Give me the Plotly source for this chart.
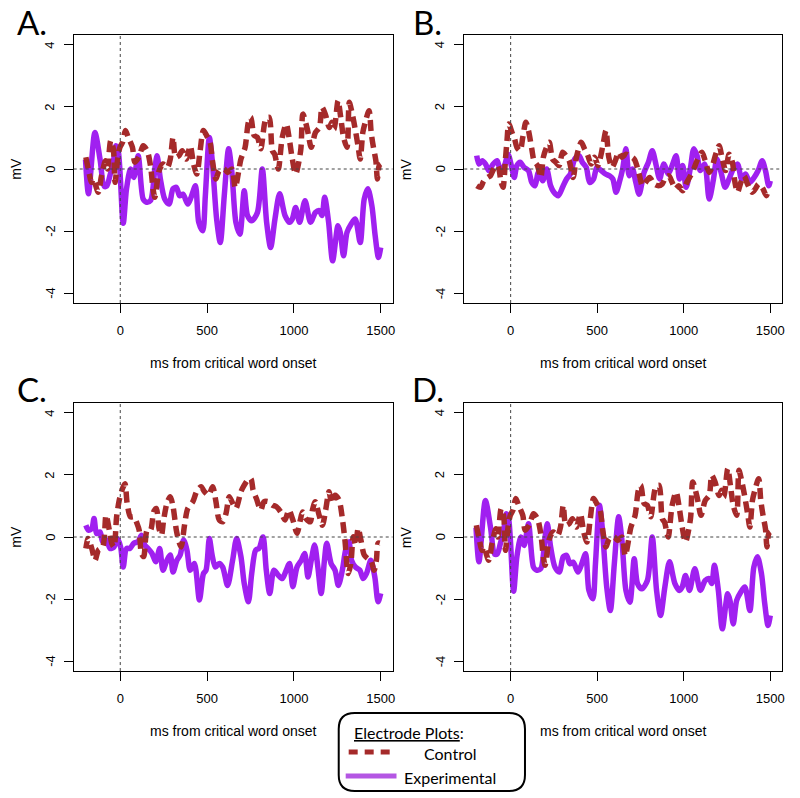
import plotly.graph_objects as go

RED = "#A52A2A"
PURPLE = "#A020F0"
LEGEND_PURPLE = "#B456E3"
TICK_FONT = dict(family="Liberation Sans, Arial, sans-serif", size=13, color="black")
LABEL_FONT = "Lato, Open Sans, sans-serif"

# Panel A (panel D shows the same electrode)
a_ctrl_ms = [-198, -184, -165, -155, -127, -108, -85, -74, -55, -40, -30, -15, -2, 13, 30, 46, 70, 84,
             107, 132, 155, 174, 189, 199, 224, 246, 271, 288, 304, 319, 338, 357, 380, 403, 422, 441,
             460, 479, 498, 517, 532, 551, 570, 599, 618, 643, 662, 695, 719, 738, 752, 771, 790, 809,
             838, 857, 876, 889, 910, 933, 956, 975, 991, 1010, 1039, 1052, 1077, 1100, 1124, 1147,
             1162, 1181, 1204, 1219, 1232, 1254, 1271, 1286, 1306, 1319, 1334, 1353, 1369, 1382, 1397,
             1411, 1433, 1445, 1458, 1472, 1481, 1491, 1500]
a_ctrl_mv = [0.38, 0.0, -0.43, -0.32, -0.75, -0.22, 0.27, 0.0, 0.91, 0.65, -0.43, 0.32, 0.7, 0.86, 1.24,
             1.02, 0.7, 0.22, 0.38, 0.75, 0.59, 0.11, -0.64, -0.91, -0.05, 0.16, 0.05, 0.32, 1.02, 0.38,
             0.43, 0.59, 0.32, 0.75, 0.16, -0.16, 0.59, 1.24, 1.07, 0.86, 0.22, -0.32, -0.05, 0.0, -0.11,
             0.0, -0.6, 0.32, 0.7, 1.51, 1.67, 1.08, 1.02, 0.65, 1.61, 1.67, 0.59, 0.48, 0.0, 1.02, 1.45,
             0.91, 0.32, -0.16, 0.59, 1.77, 1.29, 0.7, 1.18, 1.34, 1.99, 1.77, 1.34, 1.51, 1.29, 2.2,
             1.61, 1.02, 0.7, 2.15, 1.83, 1.29, 0.75, 0.32, 1.18, 1.51, 1.88, 1.18, 0.7, 0.27, -0.32,
             0.11, 0.16]
a_exp_ms = [-200, -183, -146, -116, -93, -78, -59, -40, -25, -12, 17, 36, 59, 78, 103, 132, 151, 174, 199,
            212, 231, 256, 281, 304, 323, 342, 361, 389, 408, 433, 452, 475, 490, 513, 529, 555, 576,
            599, 624, 643, 666, 689, 714, 733, 758, 790, 818, 843, 866, 891, 918, 949, 975, 991, 1010,
            1033, 1064, 1096, 1124, 1147, 1162, 1177, 1200, 1223, 1254, 1267, 1286, 1306, 1330, 1353,
            1382, 1405, 1426, 1449, 1468, 1487, 1500]
a_exp_mv = [0.3, -0.8, 1.18, 0.3, -0.55, -0.55, -0.2, 0.22, 0.75, 0.6, -1.75, -0.64, 0.0, -0.27, 0.43,
            -0.97, -1.07, -1.02, 0.0, 0.43, -0.32, -0.97, -1.13, -0.64, -0.59, -0.86, -0.81, -1.13,
            -0.91, -0.54, -1.72, -1.99, -0.86, 1.02, 0.32, -1.61, -2.37, -0.86, 0.65, -0.11, -1.72,
            -2.1, -0.7, -1.5, -1.67, -1.4, 0.0, -1.72, -2.53, -1.61, -0.8, -1.5, -1.72, -1.61, -1.24,
            -1.72, -1.02, -1.72, -1.4, -1.34, -1.5, -0.91, -1.72, -2.96, -1.83, -2.04, -2.8, -2.04,
            -1.77, -1.61, -2.37, -0.97, -0.64, -1.18, -2.15, -2.85, -2.53]

# Panel B
b_ctrl_ms = [-196, -174, -155, -132, -117, -93, -74, -55, -44, -30, -21, -11, 8, 23, 36, 55, 70, 88, 103,
             122, 135, 155, 174, 189, 204, 223, 242, 261, 280, 300, 319, 338, 361, 380, 408, 427, 446,
             465, 485, 504, 523, 536, 551, 567, 586, 605, 624, 643, 666, 685, 714, 742, 761, 780, 803,
             828, 853, 876, 895, 914, 933, 952, 971, 994, 1018, 1039, 1058, 1077, 1105, 1124, 1147,
             1166, 1185, 1204, 1223, 1242, 1262, 1281, 1296, 1311, 1330, 1349, 1368, 1395, 1414, 1433,
             1458, 1477, 1491]
b_ctrl_mv = [-0.54, -0.59, -0.38, -0.27, -0.22, 0.05, 0.11, -0.43, -0.59, 0.32, 0.91, 1.45, 1.18, 0.97,
             0.7, 0.59, 1.02, 1.51, 1.24, 0.65, 0.27, 0.11, -0.27, 0.38, 0.65, 0.86, 0.32, 0.22, 0.11,
             0.54, 0.43, 0.27, -0.27, 0.38, 0.86, 0.65, 0.43, 0.16, 0.38, 0.11, 0.48, 0.86, 1.24, 0.38,
             0.05, 0.27, 0.54, 0.38, 0.48, 0.43, 0.32, -0.16, -0.54, -0.43, -0.27, -0.48, -0.54, -0.48,
             -0.27, -0.22, -0.43, -0.64, -0.54, -0.7, -0.43, -0.22, 0.0, 0.27, 0.54, 0.27, -0.11, 0.11,
             0.48, 0.75, 0.32, -0.05, 0.48, 0.22, -0.43, -0.75, -0.43, -0.22, -0.48, -0.75, -0.64,
             -0.48, -0.64, -0.86, -0.64]
b_exp_ms = [-196, -183, -164, -145, -126, -101, -78, -59, -36, -15, 4, 21, 36, 55, 78, 103, 122, 141, 160,
            185, 208, 231, 250, 275, 300, 323, 345, 370, 395, 414, 437, 456, 479, 498, 523, 548, 571,
            590, 609, 628, 647, 666, 685, 704, 723, 742, 771, 796, 818, 841, 861, 885, 910, 933, 956,
            975, 994, 1014, 1039, 1058, 1077, 1096, 1121, 1147, 1172, 1191, 1216, 1239, 1262, 1286,
            1311, 1334, 1357, 1382, 1407, 1430, 1453, 1472, 1491, 1500]
b_exp_mv = [0.43, 0.16, 0.27, 0.16, -0.05, 0.16, 0.27, -0.05, 0.11, 0.48, 0.11, -0.27, 0.11, 0.22, 0.05,
            -0.05, -0.43, -0.54, -0.11, -0.38, 0.0, -0.54, -0.75, -0.86, -0.59, -0.32, -0.16, 0.32,
            0.43, 0.22, 0.05, -0.43, -0.32, 0.05, -0.05, -0.16, -0.22, -0.32, -0.75, -0.43, 0.0, 0.65,
            -0.22, 0.0, -0.43, -0.81, -0.11, 0.22, 0.59, 0.11, -0.32, 0.16, -0.16, 0.11, 0.43, -0.32,
            0.11, -0.59, 0.05, 0.65, 0.43, -0.05, 0.16, -0.97, -0.32, 0.32, -0.11, -0.59, -0.32, 0.0,
            0.16, -0.32, -0.16, -0.43, -0.27, -0.05, 0.27, -0.05, -0.54, -0.38]

# Panel C
c_ctrl_ms = [-198, -185, -164, -145, -126, -101, -82, -63, -49, -36, -21, -6, 13, 27, 40, 59, 78, 97, 109,
             122, 135, 155, 174, 193, 208, 223, 237, 250, 269, 288, 304, 323, 338, 351, 370, 389, 418,
             441, 465, 485, 509, 532, 551, 570, 590, 609, 628, 647, 666, 695, 714, 733, 752, 765, 784,
             809, 828, 853, 876, 899, 924, 949, 971, 994, 1018, 1037, 1050, 1069, 1094, 1107, 1123,
             1145, 1164, 1183, 1202, 1218, 1237, 1260, 1279, 1294, 1313, 1328, 1342, 1355, 1370, 1386,
             1405, 1424, 1443, 1462, 1475, 1485, 1494]
c_ctrl_mv = [-0.37, -0.05, -0.37, -0.75, -0.42, -0.32, 0.7, 0.22, -0.2, -0.32, 0.65, 1.18, 1.56, 1.72,
             1.07, 0.65, 0.65, 0.43, 0.22, -0.53, -0.63, 0.22, 0.22, 0.82, 0.92, 0.28, 0.06, 0.55, 1.09,
             1.3, 0.98, 0.22, -0.15, -0.32, 0.38, 0.92, 1.14, 1.48, 1.62, 1.46, 1.35, 1.62, 1.14, 0.55,
             0.49, 0.76, 1.3, 1.09, 0.92, 1.46, 1.67, 1.83, 1.88, 1.51, 1.24, 0.87, 1.14, 1.14, 1.03,
             0.98, 0.81, 0.55, 0.87, 0.55, 0.12, 0.55, 0.81, 0.6, 0.49, 0.87, 1.14, 0.71, 0.38, 0.87,
             1.46, 1.09, 1.35, 1.19, 0.6, -0.1, -1.18, -0.85, 0.01, -0.26, 0.28, -0.1, -0.58, -0.69,
             -0.75, -1.07, -0.75, -0.2, -0.2]
c_exp_ms = [-198, -183, -164, -151, -136, -116, -101, -78, -59, -36, -17, 2, 17, 36, 55, 78, 103, 122,
            141, 160, 183, 204, 227, 246, 269, 288, 304, 326, 345, 365, 384, 403, 427, 456, 479, 494,
            513, 529, 548, 570, 590, 618, 647, 670, 695, 714, 738, 757, 780, 799, 822, 841, 861, 885,
            910, 933, 956, 975, 994, 1018, 1043, 1062, 1081, 1100, 1119, 1138, 1157, 1176, 1189, 1214,
            1237, 1256, 1279, 1298, 1317, 1332, 1355, 1380, 1399, 1418, 1443, 1466, 1485, 1500]
c_exp_mv = [0.38, 0.22, 0.27, 0.6, 0.11, 0.16, -0.16, -0.1, -0.37, -0.32, -0.05, -0.32, -0.97, -0.37,
            -0.37, -0.2, -0.15, 0.06, -0.26, -0.37, -0.53, -0.8, -0.37, -1.07, -0.75, -0.58, -1.13,
            -0.75, -0.58, -0.1, -0.42, -1.07, -0.85, -2.03, -1.18, -1.07, -0.05, -0.58, -0.97, -0.85,
            -0.97, -1.56, -0.75, -0.05, -0.63, -1.5, -2.09, -1.18, -0.42, -0.37, 0.0, -1.07, -1.82,
            -1.07, -1.23, -1.34, -1.07, -0.85, -1.6, -0.97, -0.75, -0.53, -1.29, -0.75, -0.26, -0.97,
            -1.82, -0.75, -0.2, -0.85, -1.07, -1.56, -1.07, -0.42, -0.15, -0.75, -0.97, -1.07, -1.34,
            -1.18, -0.75, -1.29, -2.09, -1.82]

panels = [
    ("A.", a_ctrl_ms, a_ctrl_mv, a_exp_ms, a_exp_mv),
    ("B.", b_ctrl_ms, b_ctrl_mv, b_exp_ms, b_exp_mv),
    ("C.", c_ctrl_ms, c_ctrl_mv, c_exp_ms, c_exp_mv),
    ("D.", a_ctrl_ms, a_ctrl_mv, a_exp_ms, a_exp_mv),
]

x_ticks = [0, 500, 1000, 1500]
y_ticks = [-4, -2, 0, 2, 4]
x_range = [-268, 1568]
y_range = [-4.32, 4.32]

W, H = 800, 798
x_domains = [[0.0925, 0.4925], [0.5825, 0.98125]]
y_domains = [[0.6203, 0.9561], [0.1591, 0.4950]]

fig = go.Figure()
shapes, annotations = [], []
frame = dict(ticks="outside", ticklen=9, tickcolor="black", tickwidth=1,
             showline=True, mirror=True, linecolor="black", linewidth=1,
             showgrid=False, zeroline=False, showticklabels=False, fixedrange=True)
# separate label-only x axes so tick labels can sit further out, R style
labels_only = dict(ticks="", showline=False, showgrid=False, zeroline=False,
                   tickfont=TICK_FONT, anchor="free", fixedrange=True)
axis_text = dict(family=TICK_FONT["family"], size=14, color="black")

for i, (label, c_ms, c_mv, e_ms, e_mv) in enumerate(panels):
    n = "" if i == 0 else str(i + 1)
    xa, ya = "x" + n, "y" + n
    fig.add_trace(go.Scatter(
        x=e_ms, y=e_mv, xaxis=xa, yaxis=ya, mode="lines",
        line=dict(color=PURPLE, width=5.5, shape="spline", smoothing=0.8),
        showlegend=False, hoverinfo="skip",
    ))
    fig.add_trace(go.Scatter(
        x=c_ms, y=c_mv, xaxis=xa, yaxis=ya, mode="lines",
        line=dict(color=RED, width=5.5, shape="spline", smoothing=0.8, dash="11px,6px"),
        showlegend=False, hoverinfo="skip",
    ))
    # empty trace so the label-only x axis gets drawn
    fig.add_trace(go.Scatter(x=[], y=[], xaxis="x" + str(i + 5), yaxis=ya,
                             mode="lines", showlegend=False, hoverinfo="skip"))
    xd, yd = x_domains[i % 2], y_domains[i // 2]
    fig.update_layout({
        "xaxis" + n: dict(domain=xd, anchor=ya, range=x_range,
                          tickmode="array", tickvals=x_ticks, **frame),
        "yaxis" + n: dict(domain=yd, anchor=xa, range=y_range,
                          tickmode="array", tickvals=y_ticks, **frame),
        "xaxis" + str(i + 5): dict(overlaying=xa, range=x_range, tickmode="array",
                                   tickvals=x_ticks, position=yd[0] - 18 / H, **labels_only),
    })
    # rotated y tick labels, R style
    for v in y_ticks:
        annotations.append(dict(
            text=str(v), xref=xa + " domain", yref=ya, x=0, y=v, xshift=-24,
            showarrow=False, textangle=-90, xanchor="center", yanchor="middle",
            font=TICK_FONT,
        ))
    # dotted reference lines at onset and 0 mV
    dot = dict(color="#444444", width=1, dash="dot")
    shapes.append(dict(type="line", xref=xa, yref=ya + " domain", x0=0, x1=0, y0=0, y1=1, line=dot))
    shapes.append(dict(type="line", xref=xa + " domain", yref=ya, x0=0, x1=1, y0=0, y1=0, line=dot))
    annotations.append(dict(
        text="ms from critical word onset", xref=xa + " domain", yref=ya + " domain",
        x=0.5, y=0, yshift=-60, showarrow=False, yanchor="middle", font=axis_text,
    ))
    annotations.append(dict(
        text="mV", xref=xa + " domain", yref=ya + " domain", x=0, y=0.5, xshift=-58,
        showarrow=False, textangle=-90, xanchor="center", font=axis_text,
    ))
    annotations.append(dict(
        text=label, xref="paper", yref="paper",
        x=[0.04, 0.537][i % 2], y=[0.973, 0.512][i // 2], showarrow=False,
        xanchor="center", yanchor="middle",
        font=dict(family=LABEL_FONT, size=33, color="black"),
    ))

# legend box (drawn by hand, rounded corners)
def px(x, y):
    return f"{x / W:.4f},{1 - y / H:.4f}"

x0, x1, y0, y1, r = 340, 527, 713, 791, 16
box_path = (
    f"M {px(x0 + r, y0)} L {px(x1 - r, y0)} Q {px(x1, y0)} {px(x1, y0 + r)} "
    f"L {px(x1, y1 - r)} Q {px(x1, y1)} {px(x1 - r, y1)} "
    f"L {px(x0 + r, y1)} Q {px(x0, y1)} {px(x0, y1 - r)} "
    f"L {px(x0, y0 + r)} Q {px(x0, y0)} {px(x0 + r, y0)} Z"
)
shapes.append(dict(type="path", xref="paper", yref="paper", path=box_path,
                   fillcolor="white", line=dict(color="black", width=2)))
shapes.append(dict(type="line", xref="paper", yref="paper",
                   x0=350 / W, x1=396 / W, y0=1 - 752 / H, y1=1 - 752 / H,
                   line=dict(color=RED, width=5, dash="9px,7px")))
shapes.append(dict(type="line", xref="paper", yref="paper",
                   x0=347 / W, x1=398 / W, y0=1 - 776 / H, y1=1 - 776 / H,
                   line=dict(color=LEGEND_PURPLE, width=5)))
legend_font = dict(family=LABEL_FONT, size=16, color="black")
annotations.append(dict(
    text="<span style='text-decoration:underline'>Electrode Plots</span>:",
    xref="paper", yref="paper", x=353 / W, y=1 - 732 / H, xanchor="left", yanchor="middle",
    showarrow=False, font=legend_font,
))
annotations.append(dict(text="Control", xref="paper", yref="paper", x=452 / W, y=1 - 753 / H,
                        xanchor="center", yanchor="middle", showarrow=False, font=legend_font))
annotations.append(dict(text="Experimental", xref="paper", yref="paper", x=452 / W, y=1 - 777 / H,
                        xanchor="center", yanchor="middle", showarrow=False, font=legend_font))

fig.update_layout(
    width=W, height=H,
    margin=dict(l=0, r=0, t=0, b=0),
    paper_bgcolor="white", plot_bgcolor="white",
    shapes=shapes, annotations=annotations,
)

# drop the default page margin so the 800x798 figure fills the window exactly
fig.write_html("out.html", config={"displayModeBar": False},
               post_script="document.body.style.margin='0';")
